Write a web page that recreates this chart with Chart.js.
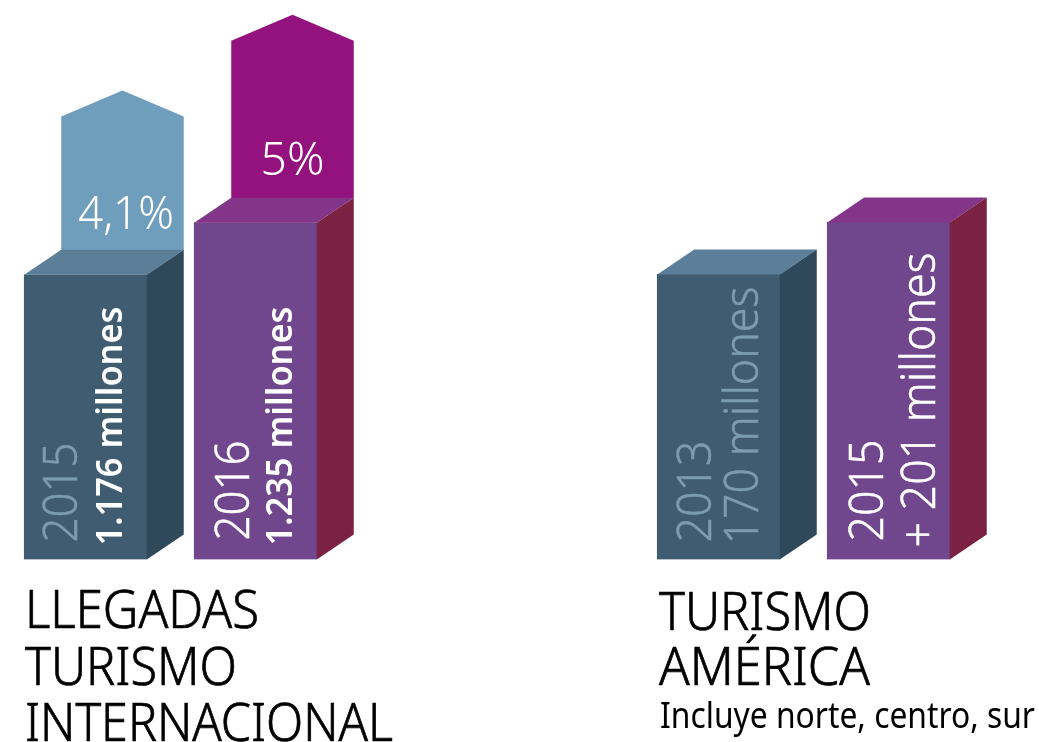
<!DOCTYPE html>
<html>
<head>
<meta charset="utf-8">
<title>Turismo</title>
<script src="https://cdn.jsdelivr.net/npm/chart.js@4/dist/chart.umd.min.js"></script>
<style>
  body { margin: 0; background: #fff; width: 1039px; height: 742px; overflow: hidden; }
  canvas { position: absolute; top: 0; }
  #mundo { left: 0; }
  #america { left: 620px; }
</style>
</head>
<body>
<canvas id="mundo" width="520" height="742"></canvas>
<canvas id="america" width="419" height="742"></canvas>
<script>
// llegadas internacionales, millones
const mundoYears = ['2015', '2016'];
const mundoValues = [1176, 1235];
const mundoLabels = ['1.176 millones', '1.235 millones'];
// the two arrows sit on the same axis: where they start and where the tip is
const growthBase = [1204, 1263];
const growthTip = [1385, 1471];
const growthLabels = ['4,1%', '5%'];
const mundoTitle = ['LLEGADAS', 'TURISMO', 'INTERNACIONAL'];

// turismo america, millones
const americaYears = ['2013', '2015'];
const americaValues = [170, 201];
const americaLabels = ['170 millones', '+ 201 millones'];
const americaTitle = ['TURISMO', 'AMÉRICA'];
const americaNote = 'Incluye norte, centro, sur';

const FONT = '"Noto Sans"';
const FRONT = ['#3f5c70', '#70478c'];
const SIDE = ['#30495a', '#7b2142'];
const TOP = ['#5b7f98', '#823589'];
const ARROW = ['#6f9dbc', '#94127d'];
const DEPTH_X = 37, DEPTH_Y = 25, TIP = 26;
const MUNDO_MIN = 853;

function poly(ctx, color, pts) {
  ctx.fillStyle = color;
  ctx.beginPath();
  pts.forEach((p, i) => i ? ctx.lineTo(p[0], p[1]) : ctx.moveTo(p[0], p[1]));
  ctx.closePath();
  ctx.fill();
}

// squeeze text to the wanted length, the installed fonts are wider than the original
function text(ctx, str, x, y, o) {
  ctx.save();
  ctx.translate(x, y);
  if (o.up) ctx.rotate(-Math.PI / 2);
  ctx.font = (o.weight || 300) + ' ' + o.size + 'px ' + FONT;
  ctx.fillStyle = o.color || '#000';
  ctx.strokeStyle = ctx.fillStyle;
  ctx.textBaseline = 'alphabetic';
  ctx.textAlign = 'left';
  if (o.len) ctx.scale(o.len / ctx.measureText(str).width, 1);
  ctx.fillText(str, 0, 0);
  // light face is a bit too thin for the headings
  if (o.stroke) {
    ctx.lineWidth = o.stroke;
    ctx.strokeText(str, 0, 0);
  }
  ctx.restore();
}

const boxes = {
  id: 'boxes',
  beforeDatasetsDraw(chart) {
    const ctx = chart.ctx;
    const arrows = chart.options.plugins.boxes.arrowSet;
    if (arrows !== undefined) {
      chart.getDatasetMeta(arrows).data.forEach((b, i) => {
        const l = b.x - b.width / 2 + DEPTH_X, r = b.x + b.width / 2 + DEPTH_X;
        poly(ctx, ARROW[i], [[l, b.base], [l, b.y + TIP], [(l + r) / 2, b.y], [r, b.y + TIP], [r, b.base]]);
      });
    }
  },
  afterDatasetsDraw(chart) {
    const ctx = chart.ctx;
    const opts = chart.options.plugins.boxes;
    chart.getDatasetMeta(opts.barSet).data.forEach((b, i) => {
      const l = b.x - b.width / 2, r = b.x + b.width / 2;
      poly(ctx, TOP[i], [[l, b.y], [l + DEPTH_X, b.y - DEPTH_Y], [r + DEPTH_X, b.y - DEPTH_Y], [r, b.y]]);
      poly(ctx, SIDE[i], [[r, b.y], [r + DEPTH_X, b.y - DEPTH_Y], [r + DEPTH_X, b.base - DEPTH_Y], [r, b.base]]);
      opts.labels[i].forEach(t => text(ctx, t.str, b.x + t.dx, b.base + t.dy, t));
    });
    if (opts.arrowSet !== undefined) {
      chart.getDatasetMeta(opts.arrowSet).data.forEach((b, i) => {
        const t = opts.arrowLabels[i];
        text(ctx, t.str, b.x + t.dx, b.base + t.dy, t);
      });
    }
    opts.titles.forEach(t => text(ctx, t.str, t.x, t.y, t));
  }
};

const baseOptions = (padding, yMin, yMax, plug) => ({
  responsive: false,
  animation: false,
  devicePixelRatio: 1,
  layout: { padding },
  scales: {
    x: { display: false },
    y: { display: false, min: yMin, max: yMax }
  },
  plugins: { legend: { display: false }, tooltip: { enabled: false }, title: { display: false }, boxes: plug }
});

new Chart(document.getElementById('mundo'), {
  type: 'bar',
  plugins: [boxes],
  data: {
    labels: mundoYears,
    datasets: [
      { data: growthBase.map((v, i) => [v, growthTip[i]]), backgroundColor: 'transparent', barThickness: 122.5, grouped: false },
      { data: mundoValues, base: MUNDO_MIN, backgroundColor: FRONT, barThickness: 122.5, grouped: false }
    ]
  },
  options: baseOptions({ left: 0.5, right: 179.5, top: 0, bottom: 182.5 }, MUNDO_MIN, 1487.8, {
    arrowSet: 0,
    barSet: 1,
    arrowLabels: [
      { str: growthLabels[0], dx: -7.5, dy: -21, size: 45, color: '#fff', len: 96 },
      { str: growthLabels[1], dx: 5, dy: -23, size: 45, color: '#fff', len: 64 }
    ],
    labels: [
      [{ str: mundoYears[0], dx: -8.5, dy: -17, size: 48, color: '#7c9cb0', up: true, len: 100, stroke: 0.5 },
       { str: mundoLabels[0], dx: 36.5, dy: -14, size: 36, weight: 600, color: '#fff', up: true, len: 239 }],
      [{ str: mundoYears[1], dx: -6.5, dy: -19, size: 48, color: '#fff', up: true, len: 100, stroke: 0.5 },
       { str: mundoLabels[1], dx: 36.5, dy: -14, size: 36, weight: 600, color: '#fff', up: true, len: 239 }]
    ],
    titles: [
      { str: mundoTitle[0], x: 25, y: 628, size: 53, stroke: 0.7, len: 234 },
      { str: mundoTitle[1], x: 25, y: 685, size: 53, stroke: 0.7, len: 212 },
      { str: mundoTitle[2], x: 25, y: 741, size: 53, stroke: 0.7, len: 368 }
    ]
  })
});

new Chart(document.getElementById('america'), {
  type: 'bar',
  plugins: [boxes],
  data: {
    labels: americaYears,
    datasets: [{ data: americaValues, backgroundColor: FRONT, barThickness: 122.5 }]
  },
  options: baseOptions({ left: 13.5, right: 65.5, top: 0, bottom: 182.5 }, 0, 333.6, {
    barSet: 0,
    labels: [
      [{ str: americaYears[0], dx: -7.5, dy: -17, size: 48, color: '#7c9cb0', up: true, len: 102, stroke: 0.5 },
       { str: americaLabels[0], dx: 39.5, dy: -15, size: 48, color: '#7c9cb0', up: true, len: 258, stroke: 0.5 }],
      [{ str: americaYears[1], dx: -5.5, dy: -18, size: 48, color: '#fff', up: true, len: 102, stroke: 0.5 },
       { str: americaLabels[1], dx: 46.5, dy: -12, size: 48, color: '#fff', up: true, len: 295, stroke: 0.5 }]
    ],
    titles: [
      { str: americaTitle[0], x: 39, y: 630, size: 53, stroke: 0.7, len: 212 },
      { str: americaTitle[1], x: 39, y: 685, size: 53, stroke: 0.7, len: 211 },
      { str: americaNote, x: 40, y: 728, size: 37, weight: 400, len: 375 }
    ]
  })
});
</script>
</body>
</html>
